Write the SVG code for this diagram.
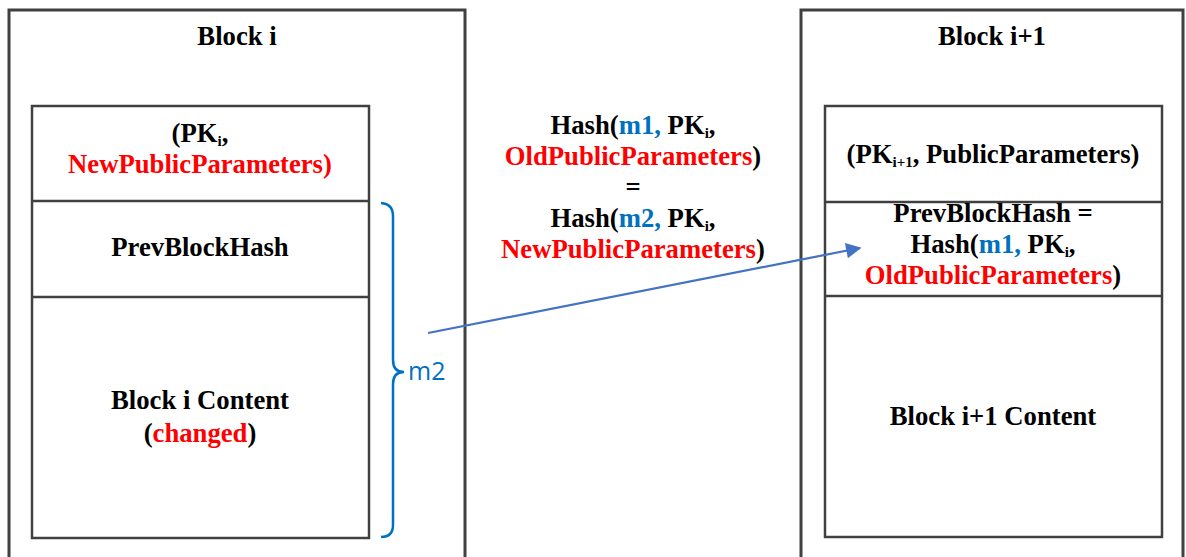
<svg xmlns="http://www.w3.org/2000/svg" width="1186" height="557" viewBox="0 0 1186 557">
<style>
.box{fill:#fff;stroke:#404040;stroke-width:3}
.ibox{fill:none;stroke:#404040;stroke-width:2.5}
.t{font-family:"Liberation Serif","Times New Roman",serif;font-weight:bold;font-size:26.7px;fill:#000;text-anchor:middle}
.r{fill:#ff0000}
.b{fill:#0070c0}
.sub{font-size:15px}
.m2{font-family:"Open Sans","Noto Sans",sans-serif;font-size:25px;fill:#0070c0}
</style>
<defs>
<marker id="ah" viewBox="0 0 10 10" refX="9" refY="5" markerWidth="8" markerHeight="7" markerUnits="strokeWidth" orient="auto">
<path d="M0,0 L10,5 L0,10 z" fill="#4472c4"/>
</marker>
</defs>
<g id="block-i">
<rect class="box" x="9" y="10" width="456" height="570"/>
<text class="t" x="237" y="45">Block i</text>
<rect class="ibox" x="32" y="106" width="337" height="432"/>
<line class="ibox" x1="32" y1="201" x2="369" y2="201"/>
<line class="ibox" x1="32" y1="297" x2="369" y2="297"/>
<text class="t" x="200" y="142">(PK<tspan class="sub" dy="4">i</tspan><tspan dy="-4">,</tspan></text>
<text class="t r" x="200" y="173">NewPublicParameters)</text>
<text class="t" x="200" y="256">PrevBlockHash</text>
<text class="t" x="200" y="409">Block i Content</text>
<text class="t" x="200" y="442">(<tspan class="r">changed</tspan>)</text>
</g>
<g id="block-i1">
<rect class="box" x="801" y="10" width="382" height="570"/>
<text class="t" x="992" y="45">Block i+1</text>
<rect class="ibox" x="825" y="106" width="337" height="431"/>
<line class="ibox" x1="825" y1="202" x2="1162" y2="202"/>
<line class="ibox" x1="825" y1="296" x2="1162" y2="296"/>
<text class="t" x="993" y="163">(PK<tspan class="sub" dy="4">i+1</tspan><tspan dy="-4">, PublicParameters)</tspan></text>
<text class="t" x="993" y="222">PrevBlockHash =</text>
<text class="t" x="993" y="253">Hash(<tspan class="b">m1,</tspan> PK<tspan class="sub" dy="4">i</tspan><tspan dy="-4">,</tspan></text>
<text class="t" x="993" y="284"><tspan class="r">OldPublicParameters</tspan>)</text>
<text class="t" x="993" y="425">Block i+1 Content</text>
</g>
<g id="equation">
<text class="t" x="633" y="134">Hash(<tspan class="b">m1,</tspan> PK<tspan class="sub" dy="4">i</tspan><tspan dy="-4">,</tspan></text>
<text class="t" x="633" y="165"><tspan class="r">OldPublicParameters</tspan>)</text>
<text class="t" x="633" y="196">=</text>
<text class="t" x="633" y="227">Hash(<tspan class="b">m2,</tspan> PK<tspan class="sub" dy="4">i</tspan><tspan dy="-4">,</tspan></text>
<text class="t" x="633" y="258"><tspan class="r">NewPublicParameters</tspan>)</text>
</g>
<g id="brace-m2">
<path d="M381,203 Q393,204 393,216 L393,360 Q393,372 404,372 Q393,372 393,384 L393,525 Q393,537 381,537" fill="none" stroke="#0070c0" stroke-width="2.5"/>
<text class="m2" x="408" y="380">m2</text>
</g>
<g id="connectors">
<line x1="428" y1="333" x2="860" y2="248" stroke="#4472c4" stroke-width="2.2" marker-end="url(#ah)"/>
</g>
</svg>
